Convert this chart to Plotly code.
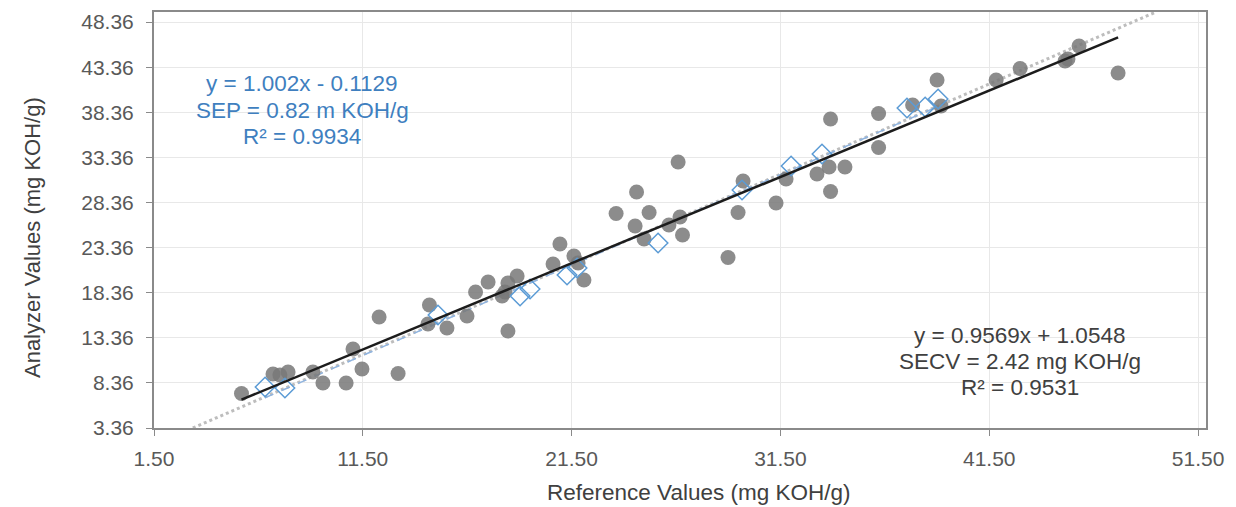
import plotly.graph_objects as go

# Calibration set (grey circles): reference vs analyzer values
cal_ref = [5.69, 7.20, 7.53, 7.92, 9.11, 9.59, 10.70, 11.03, 11.46, 12.28, 13.19,
           14.69, 14.62, 15.53, 16.49, 16.90, 17.50, 18.45, 18.89, 18.17, 18.31, 18.45,
           20.61, 20.94, 21.61, 21.81, 22.09, 23.63, 24.61, 25.21, 24.54, 24.97, 26.16,
           26.69, 26.81, 26.60, 28.99, 29.47, 29.71, 31.29, 31.77, 33.25, 33.83, 34.59,
           33.90, 33.90, 36.20, 36.20, 37.83, 39.00, 39.19, 41.83, 42.98, 45.13, 45.27,
           45.80, 47.67]
cal_ana = [7.18, 9.35, 9.24, 9.57, 9.57, 8.35, 8.35, 12.12, 9.90, 15.67, 9.40,
           17.00, 14.89, 14.45, 15.78, 18.44, 19.55, 19.44, 20.21, 17.99, 18.44, 14.11,
           21.54, 23.76, 22.43, 21.65, 19.77, 27.14, 29.52, 27.25, 25.75, 24.31, 25.87,
           26.75, 24.76, 32.85, 22.26, 27.25, 30.74, 28.30, 30.97, 31.52, 32.30, 32.30,
           29.58, 37.62, 38.23, 34.46, 39.17, 41.94, 39.06, 41.94, 43.22, 44.05, 44.27,
           45.71, 42.72]

# Validation set (blue open diamonds)
val_ref = [6.82, 7.77, 15.10, 19.03, 19.51, 21.28, 21.76, 25.64, 29.66, 32.01,
           33.49, 37.56, 38.43, 39.05]
val_ana = [7.91, 7.79, 15.89, 17.99, 18.77, 20.32, 21.10, 23.87, 29.75, 32.41,
           33.74, 38.84, 38.95, 39.83]

# Trendline coefficients
cal_slope, cal_icpt = 0.9569, 1.0548
val_slope, val_icpt = 1.002, -0.1129
ideal_x = [3.36, 49.48]

x_ticks = [1.50, 11.50, 21.50, 31.50, 41.50, 51.50]
y_ticks = [3.36, 8.36, 13.36, 18.36, 23.36, 28.36, 33.36, 38.36, 43.36, 48.36]
x_range = [1.5, 51.88]
y_range = [3.36, 49.48]

x_title = "Reference Values (mg KOH/g)"
y_title = "Analyzer Values (mg KOH/g)"
blue_text = ["y = 1.002x - 0.1129", "SEP = 0.82 m KOH/g", "R² = 0.9934"]
black_text = ["y = 0.9569x + 1.0548", "SECV = 2.42 mg KOH/g", "R² = 0.9531"]

FONT = "Liberation Sans, Arial, sans-serif"

fig = go.Figure()

# 1:1 dotted grey line
fig.add_trace(go.Scatter(x=ideal_x, y=ideal_x, mode="lines",
                         line=dict(color="#bdbdbd", width=3, dash="dot"),
                         hoverinfo="skip", showlegend=False))

# validation trendline
vx = [min(val_ref), max(val_ref)]
fig.add_trace(go.Scatter(x=vx, y=[val_slope * v + val_icpt for v in vx], mode="lines",
                         line=dict(color="#8fb4e0", width=1.5, dash="dash"),
                         hoverinfo="skip", showlegend=False))

# calibration points
fig.add_trace(go.Scatter(x=cal_ref, y=cal_ana, mode="markers",
                         marker=dict(symbol="circle", size=15, color="rgba(120,120,120,0.85)",
                                     line=dict(width=0)),
                         showlegend=False))

# validation points
fig.add_trace(go.Scatter(x=val_ref, y=val_ana, mode="markers",
                         marker=dict(symbol="diamond-open", size=15, color="#5b9bd5",
                                     line=dict(width=1.5, color="#5b9bd5")),
                         showlegend=False))

# calibration trendline
cx = [min(cal_ref), max(cal_ref)]
fig.add_trace(go.Scatter(x=cx, y=[cal_slope * v + cal_icpt for v in cx], mode="lines",
                         line=dict(color="#1c1c1c", width=2.5),
                         hoverinfo="skip", showlegend=False))

# annotations (one per line)
blue_y = [41.51, 38.52, 35.64]
for t, yy in zip(blue_text, blue_y):
    fig.add_annotation(x=8.59, y=yy, xref="x", yref="y", text=t, showarrow=False,
                       xanchor="center", yanchor="middle",
                       font=dict(family=FONT, size=22.5, color="#3f7fbf"))
black_y = [13.6, 10.68, 7.80]
for t, yy in zip(black_text, black_y):
    fig.add_annotation(x=42.97, y=yy, xref="x", yref="y", text=t, showarrow=False,
                       xanchor="center", yanchor="middle",
                       font=dict(family=FONT, size=22.5, color="#404040"))

# axis titles
fig.add_annotation(x=0.518, y=-0.156, xref="paper", yref="paper", text=x_title,
                   showarrow=False, xanchor="center", yanchor="middle",
                   font=dict(family=FONT, size=22.5, color="#404040"))
fig.add_annotation(x=-0.116, y=0.459, xref="paper", yref="paper", text=y_title,
                   showarrow=False, xanchor="center", yanchor="middle", textangle=-90,
                   font=dict(family=FONT, size=22, color="#404040"))

axis_common = dict(showgrid=True, gridcolor="#e8e8e8", gridwidth=1, automargin=False,
                   zeroline=False, showline=True, linecolor="#8a8a8a", linewidth=2,
                   mirror=True, ticks="outside", ticklen=6, tickcolor="#8a8a8a",
                   tickwidth=1, tickfont=dict(family=FONT, size=21, color="#595959"),
                   tickformat=".2f")

fig.update_xaxes(range=x_range, tickvals=x_ticks, ticklabelstandoff=5, **axis_common)
fig.update_yaxes(range=y_range, tickvals=y_ticks, ticklabelstandoff=8, **axis_common)

# the page body adds an 8px offset, so the figure is sized to fit the window
fig.update_layout(width=1228, height=499, plot_bgcolor="white", paper_bgcolor="white",
                  margin=dict(l=146, r=30, t=4, b=79), showlegend=False)

fig.write_html("out.html")
